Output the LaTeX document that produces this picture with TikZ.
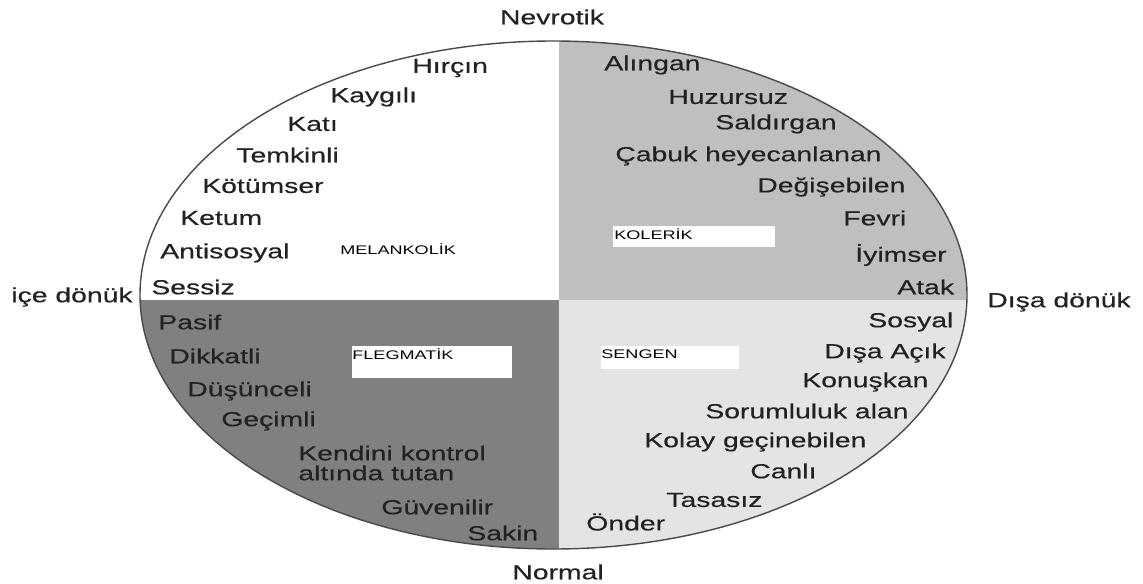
\documentclass[tikz,border=0pt]{standalone}
\usepackage{fontspec}
\setmainfont{Liberation Sans}
\newfontfamily\traitfont[FakeStretch=1.39, FakeBold=0.4]{Liberation Sans}
\newfontfamily\typefont[FakeStretch=1.45]{Liberation Sans}

\definecolor{ink}{HTML}{222222}
\definecolor{kolerik}{HTML}{BFBFBF}
\definecolor{flegmatik}{HTML}{808080}
\definecolor{sengen}{HTML}{E4E4E4}
\definecolor{rim}{HTML}{4A4A4A}

\tikzset{
	trait/.style={anchor=west, inner sep=0pt, text=ink,
		font=\traitfont\fontsize{11.6}{11.3}\selectfont},
	axis/.style={inner sep=0pt, text=ink,
		font=\traitfont\fontsize{11.6}{11.3}\selectfont},
	typelabel/.style={anchor=west, inner sep=0pt, text=black,
		font=\typefont\fontsize{7.1}{8}\selectfont},
	namebox/.style={fill=white, draw=none}
}

\begin{document}
\begin{tikzpicture}[x=0.02cm, y=-0.02cm]
		\useasboundingbox (0,0) rectangle (1143,584);
		\coordinate (c) at (553.5,295);

		% the four temperaments
		\begin{scope}
			\clip (c) ellipse [x radius=413.5, y radius=254];
			\fill[white] (100,0) rectangle (559,300);
			\fill[kolerik] (559,0) rectangle (1000,300);
			\fill[flegmatik] (100,300) rectangle (559,584);
			\fill[sengen] (559,300) rectangle (1000,584);
		\end{scope}
		\draw[rim, line width=0.8pt] (c) ellipse [x radius=413.5, y radius=254];

		\fill[namebox] (613,226) rectangle (775,247);
		\fill[namebox] (352,346) rectangle (512,378);
		\fill[namebox] (601,346) rectangle (739,369);

		\node[typelabel] (melankolik) at (340,249) {MELANKOLİK};
		\node[typelabel] (kolerikname) at (614,234) {KOLERİK};
		\node[typelabel] (flegmatikname) at (352,354) {FLEGMATİK};
		\node[typelabel] (sengenname) at (601,354) {SENGEN};

		% axes
		\node[axis] (nevrotik) at (552,17) {Nevrotik};
		\node[axis] (normal) at (558,572) {Normal};
		\node[axis, anchor=west] (icedonuk) at (11,297) {içe dönük};
		\node[axis, anchor=west] (disadonuk) at (987,302) {Dışa dönük};

		% melankolik
		\node[trait] (hircin) at (412,68) {Hırçın};
		\node[trait] (kaygili) at (330,97) {Kaygılı};
		\node[trait] (kati) at (287,124) {Katı};
		\node[trait] (temkinli) at (236,155) {Temkinli};
		\node[trait] (kotumser) at (202,186) {Kötümser};
		\node[trait] (ketum) at (180,218) {Ketum};
		\node[trait] (antisosyal) at (160,253) {Antisosyal};
		\node[trait] (sessiz) at (151,287) {Sessiz};

		% kolerik
		\node[trait] (alingan) at (604,65) {Alıngan};
		\node[trait] (huzursuz) at (668,97) {Huzursuz};
		\node[trait] (saldirgan) at (715,124) {Saldırgan};
		\node[trait] (cabuk) at (615,156) {Çabuk heyecanlanan};
		\node[trait] (degisebilen) at (757,187) {Değişebilen};
		\node[trait] (fevri) at (843,218) {Fevri};
		\node[trait] (iyimser) at (855,255) {İyimser};
		\node[trait] (atak) at (897,287) {Atak};

		% flegmatik
		\node[trait] (pasif) at (158,322) {Pasif};
		\node[trait] (dikkatli) at (169,356) {Dikkatli};
		\node[trait] (dusunceli) at (187,391) {Düşünceli};
		\node[trait] (gecimli) at (221,421) {Geçimli};
		\node[trait, align=left] (kendini) at (298,463) {Kendini kontrol\\altında tutan};
		\node[trait] (guvenilir) at (381,507) {Güvenilir};
		\node[trait] (sakin) at (467,533) {Sakin};

		% sengen
		\node[trait] (sosyal) at (868,322) {Sosyal};
		\node[trait] (disaacik) at (824,353) {Dışa Açık};
		\node[trait] (konuskan) at (802,382) {Konuşkan};
		\node[trait] (sorumluluk) at (705,411) {Sorumluluk alan};
		\node[trait] (kolay) at (644,442) {Kolay geçinebilen};
		\node[trait] (canli) at (750,471) {Canlı};
		\node[trait] (tasasiz) at (666,500) {Tasasız};
		\node[trait] (onder) at (586,522) {Önder};
	\end{tikzpicture}
\end{document}
